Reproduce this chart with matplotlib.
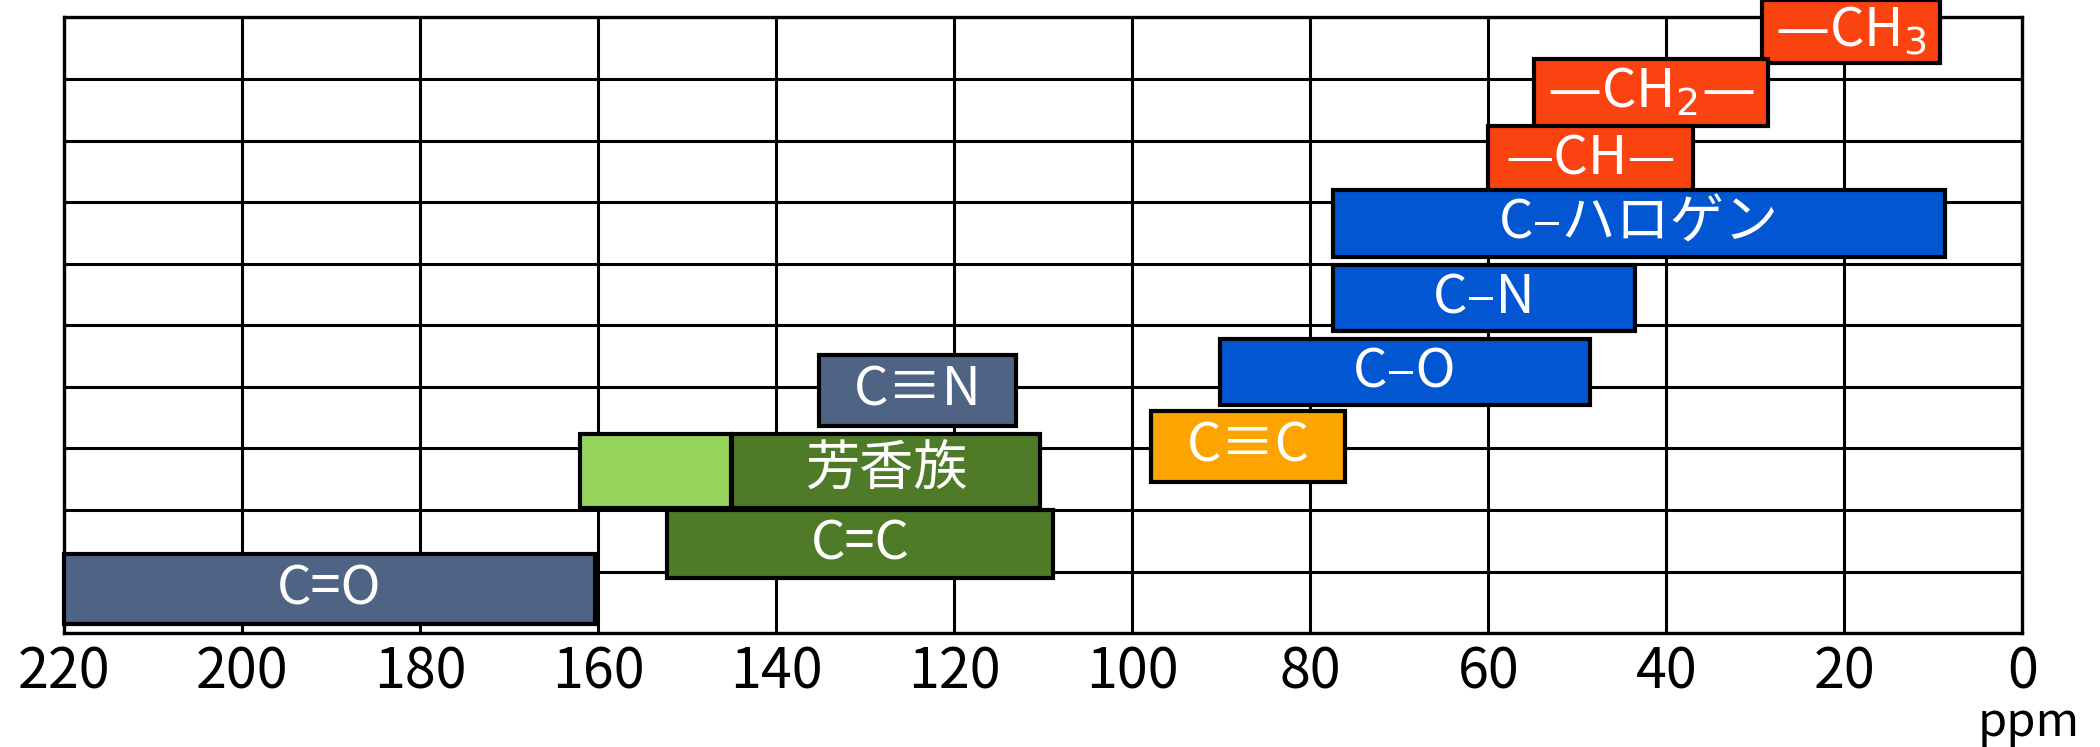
import matplotlib
matplotlib.use("Agg")
import matplotlib.pyplot as plt

plt.rcParams['font.family'] = ['Noto Sans CJK JP', 'DejaVu Sans']

# chemical shift ranges (ppm)
labels = ['—CH$_3$', '—CH$_2$—', '—CH—', 'C–ハロゲン', 'C–N', 'C–O',
          'C≡C', 'C≡N', '', '芳香族', 'C=C', 'C=O']
ppm_high = [29.3, 54.9, 60.0, 77.4, 77.4, 90.1, 97.9, 135.2, 162.0, 145.0, 152.3, 220.0]
ppm_low = [9.2, 28.6, 37.0, 8.7, 43.5, 48.6, 76.1, 113.1, 145.1, 110.4, 108.9, 160.4]
# vertical extent of each box, in grid rows from the bottom
row_low = [9.26, 8.24, 7.17, 6.11, 4.91, 3.70, 2.46, 3.37, 2.04, 2.04, 0.89, 0.15]
row_high = [10.28, 9.33, 8.24, 7.20, 5.98, 4.78, 3.61, 4.52, 3.24, 3.24, 2.00, 1.28]
colors = ['#fb4211', '#fb4211', '#fb4211', '#0356d1', '#0356d1', '#0356d1',
          '#fca500', '#4f6484', '#98d55f', '#4f7a28', '#4f7a28', '#4f6484']

ticks = [220, 200, 180, 160, 140, 120, 100, 80, 60, 40, 20, 0]
n_rows = 10

fig = plt.figure(figsize=(21, 7.47), dpi=100)
ax = fig.add_axes([0.0306, 0.1523, 0.9324, 0.8244])

ax.set_xlim(220, 0)
ax.set_ylim(0, n_rows)

# grid
for t in ticks:
    ax.axvline(t, color='black', lw=2.2, zorder=1)
for r in range(n_rows + 1):
    ax.axhline(r, color='black', lw=2.2, zorder=1)

for sp in ax.spines.values():
    sp.set_linewidth(2.4)

for lab, hi, lo, y0, y1, c in zip(labels, ppm_high, ppm_low, row_low, row_high, colors):
    ax.barh((y0 + y1) / 2, hi - lo, left=lo, height=y1 - y0, color=c,
            edgecolor='black', linewidth=3, zorder=3, clip_on=False)
    if lab:
        ax.text((hi + lo) / 2, (y0 + y1) / 2, lab, ha='center', va='center',
                color='white', fontsize=39, zorder=4, clip_on=False)

ax.set_xticks(ticks)
ax.set_xticklabels([str(t) for t in ticks], fontsize=40)
ax.tick_params(axis='x', length=0, pad=8)
ax.set_yticks([])

fig.text(0.966, 0.0, 'ppm', ha='center', va='bottom', fontsize=34)

fig.savefig('out.png', dpi=100)
